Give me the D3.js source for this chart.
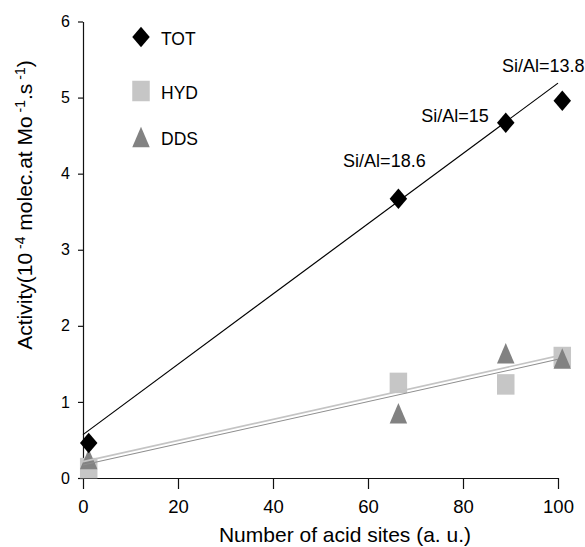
<!DOCTYPE html>
<html>
<head>
<meta charset="utf-8">
<script src="https://cdn.jsdelivr.net/npm/d3@7"></script>
<style>
  body { margin: 0; background: #fff; }
  text { font-family: "Liberation Sans", Arial, sans-serif; fill: #000; }
</style>
</head>
<body>
<div id="chart"></div>
<script>
'use strict';

// values
const sites = [1.2, 66.4, 89, 100.9];
const totValues = [0.46, 3.67, 4.67, 4.96];
const hydValues = [0.13, 1.25, 1.23, 1.59];
const ddsValues = [0.25, 0.85, 1.64, 1.57];
const siAlLabels = ['', 'Si/Al=18.6', 'Si/Al=15', 'Si/Al=13.8'];

// trend lines (ends at x = 0 and x = 100)
const fitX = [0, 100];
const totFit = [0.57, 5.19];
const hydFit = [0.215, 1.605];
const ddsFit = [0.17, 1.56];

const xTicks = [0, 20, 40, 60, 80, 100];
const yTicks = [0, 1, 2, 3, 4, 5, 6];
const seriesNames = ['TOT', 'HYD', 'DDS'];

const width = 585;
const height = 547;
const colors = { TOT: '#000', HYD: '#c6c6c6', DDS: '#828282' };
const mw = 17.5;
const mh = 20.5;

const svg = d3.select('#chart')
  .append('svg')
  .attr('width', width)
  .attr('height', height);

const x = d3.scaleLinear().domain([0, 100]).range([83, 558]);
const y = d3.scaleLinear().domain([0, 6]).range([478, 21.5]);

const diamond = (cx, cy) =>
  `M${cx},${cy - mh / 2}L${cx + mw / 2},${cy}L${cx},${cy + mh / 2}L${cx - mw / 2},${cy}Z`;
const triangle = (cx, cy) =>
  `M${cx},${cy - mh / 2}L${cx + mw / 2},${cy + mh / 2}L${cx - mw / 2},${cy + mh / 2}Z`;

// axes
svg.append('g')
  .attr('transform', `translate(0,${y(0)})`)
  .call(d3.axisBottom(x).tickValues(xTicks).tickSize(11).tickSizeOuter(0).tickPadding(11))
  .attr('font-family', null)
  .attr('font-size', 18.5);

svg.append('g')
  .attr('transform', `translate(${x(0)},0)`)
  .call(d3.axisLeft(y).tickValues(yTicks).tickFormat(d3.format('d'))
    .tickSize(5).tickSizeOuter(0).tickPadding(8))
  .attr('font-family', null)
  .attr('font-size', 16);

svg.selectAll('.domain, .tick line').attr('stroke', '#111').attr('stroke-width', 1.2);

// markers under the lines
const hydData = sites.map((s, i) => ({ s: s, v: hydValues[i] }));
const ddsData = sites.map((s, i) => ({ s: s, v: ddsValues[i] }));
const totData = sites.map((s, i) => ({ s: s, v: totValues[i], label: siAlLabels[i] }));

svg.selectAll('.hyd')
  .data(hydData)
  .enter()
  .append('rect')
  .attr('x', d => x(d.s) - mw / 2)
  .attr('y', d => y(d.v) - mh / 2)
  .attr('width', mw)
  .attr('height', mh)
  .attr('fill', colors.HYD);

svg.selectAll('.dds')
  .data(ddsData)
  .enter()
  .append('path')
  .attr('d', d => triangle(x(d.s), y(d.v)))
  .attr('fill', colors.DDS);

// fit lines
const line = d3.line().x(d => x(d[0])).y(d => y(d[1]));
const fits = [
  { vals: hydFit, stroke: '#c4c4c4', w: 1.6 },
  { vals: ddsFit, stroke: '#8e8e8e', w: 1.1 },
  { vals: totFit, stroke: '#000', w: 1.2 }
];
fits.forEach(f => {
  svg.append('path')
    .attr('d', line(fitX.map((fx, i) => [fx, f.vals[i]])))
    .attr('fill', 'none')
    .attr('stroke', f.stroke)
    .attr('stroke-width', f.w);
});

svg.selectAll('.tot')
  .data(totData)
  .enter()
  .append('path')
  .attr('d', d => diamond(x(d.s), y(d.v)))
  .attr('fill', colors.TOT);

// Si/Al annotations
const labelPlace = [null, [-14, -32, 'middle'], [-17, -1, 'end'], [-19, -29, 'middle']];
svg.selectAll('.silabel')
  .data(totData.filter(d => d.label))
  .enter()
  .append('text')
  .attr('x', (d, i) => x(d.s) + labelPlace[i + 1][0])
  .attr('y', (d, i) => y(d.v) + labelPlace[i + 1][1])
  .attr('text-anchor', (d, i) => labelPlace[i + 1][2])
  .attr('font-size', 18)
  .text(d => d.label);

// legend
const legendY = [37, 91, 137];
const legend = svg.append('g');
seriesNames.forEach((name, i) => {
  const cy = legendY[i];
  if (name === 'TOT') {
    legend.append('path').attr('d', diamond(141, cy)).attr('fill', colors.TOT);
  } else if (name === 'HYD') {
    legend.append('rect')
      .attr('x', 141 - mw / 2).attr('y', cy - mh / 2)
      .attr('width', mw).attr('height', mh)
      .attr('fill', colors.HYD);
  } else {
    legend.append('path').attr('d', triangle(141, cy)).attr('fill', colors.DDS);
  }
  legend.append('text')
    .attr('x', 161)
    .attr('y', cy + 7.5)
    .attr('font-size', 17.5)
    .text(name);
});

// axis titles
svg.append('text')
  .attr('x', 345)
  .attr('y', 542)
  .attr('text-anchor', 'middle')
  .attr('font-size', 21)
  .text('Number of acid sites (a. u.)');

const yTitle = svg.append('text')
  .attr('transform', 'translate(32,205) rotate(-90)')
  .attr('text-anchor', 'middle')
  .attr('font-size', 21);
yTitle.append('tspan').text('Activity(10');
yTitle.append('tspan').attr('dy', -7.5).attr('font-size', 14).text(' -4');
yTitle.append('tspan').attr('dy', 7.5).text(' molec.at Mo');
yTitle.append('tspan').attr('dy', -7.5).attr('font-size', 14).text(' -1');
yTitle.append('tspan').attr('dy', 7.5).text('.s');
yTitle.append('tspan').attr('dy', -7.5).attr('font-size', 14).text(' -1');
yTitle.append('tspan').attr('dy', 7.5).text(')');
</script>
</body>
</html>
